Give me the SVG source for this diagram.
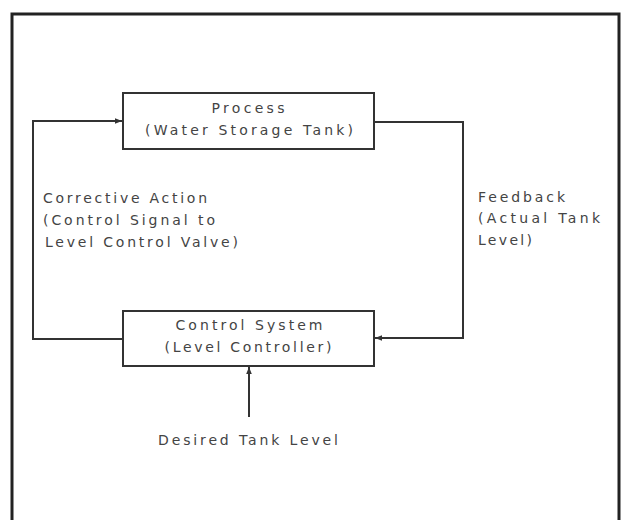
<svg xmlns="http://www.w3.org/2000/svg" width="624" height="520" viewBox="0 0 624 520">
<style>
.box{fill:#fff;stroke:#333;stroke-width:2}
.ln{fill:none;stroke:#333;stroke-width:2}
text{font-family:"DejaVu Sans",Arial,sans-serif;font-size:14px;fill:#444}
.c{text-anchor:middle}
</style>
<defs>
<marker id="ah" viewBox="0 0 10 10" refX="10" refY="5" markerWidth="9" markerHeight="7" orient="auto" markerUnits="userSpaceOnUse">
<path d="M0,1 L10,5 L0,9 Z" fill="#333"/>
</marker>
</defs>
<rect width="624" height="520" fill="#fff"/>
<path d="M12,520 V14 H619 V520" fill="none" stroke="#222" stroke-width="3"/>
<g id="process">
<rect class="box" x="123" y="93" width="251" height="56"/>
<text class="c" x="248" y="113" textLength="73">Process</text>
<text class="c" x="249" y="135" textLength="208">(Water Storage Tank)</text>
</g>
<g id="control">
<rect class="box" x="123" y="311" width="251" height="55"/>
<text class="c" x="249" y="330" textLength="147">Control System</text>
<text class="c" x="248" y="352" textLength="167">(Level Controller)</text>
</g>
<g id="corrective-label">
<text x="43" y="203" textLength="164">Corrective Action</text>
<text x="43" y="225" textLength="172">(Control Signal to</text>
<text x="45" y="247" textLength="193">Level Control Valve)</text>
</g>
<g id="feedback-label">
<text x="478" y="202" textLength="87">Feedback</text>
<text x="478" y="223" textLength="122">(Actual Tank</text>
<text x="478" y="245" textLength="54">Level)</text>
</g>
<g id="desired-label">
<text class="c" x="248" y="445" textLength="180">Desired Tank Level</text>
</g>
<g id="connectors">
<path class="ln" d="M122,339 H33 V121 H122" marker-end="url(#ah)"/>
<path class="ln" d="M375,122 H463 V338 H375" marker-end="url(#ah)"/>
<path class="ln" d="M249,417 V367" marker-end="url(#ah)"/>
</g>
</svg>
